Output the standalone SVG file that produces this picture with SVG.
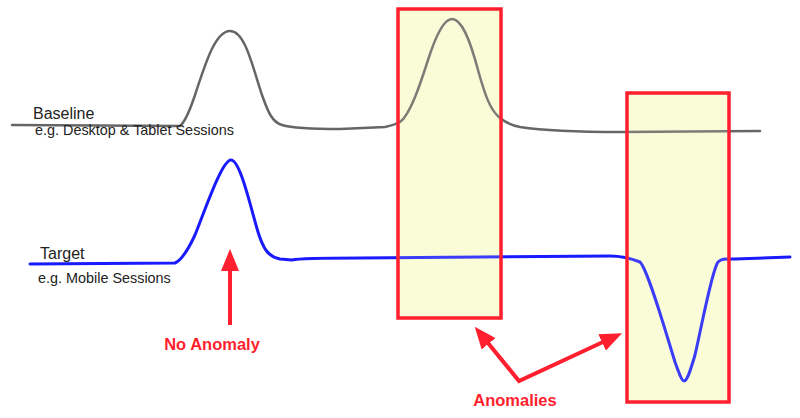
<svg xmlns="http://www.w3.org/2000/svg" width="800" height="418" viewBox="0 0 800 418">
<style>
.lbl{font-family:"Liberation Sans",Arial,sans-serif;fill:#222}
.big{font-size:16px}
.sub{font-size:14.4px}
.red{font-family:"Liberation Sans",Arial,sans-serif;font-weight:bold;font-size:16.5px;fill:#ff1f2e}
.curve{fill:none;stroke-linecap:round;stroke-linejoin:round}
.boxfill{fill:#f9fcd8;stroke:none}
.box{fill:#f9fcd8;fill-opacity:0.15;stroke:#ff1f2e;stroke-width:3.5}
.arr{fill:none;stroke:#ff1f2e;stroke-width:4;stroke-linejoin:miter}
</style>
<defs>
<marker id="ah" markerUnits="userSpaceOnUse" viewBox="0 0 22 18" markerWidth="22" markerHeight="18" refX="1" refY="9" orient="auto-start-reverse">
<path d="M0,0 L22,9 L0,18 z" fill="#ff1f2e"/>
</marker>
</defs>
<g id="box-fills">
<rect class="boxfill" x="398" y="9" width="103" height="309"/>
<rect class="boxfill" x="627" y="93" width="102" height="309"/>
</g>
<g id="baseline">
<path class="curve" stroke="#666" stroke-width="2.5" d="M12,125 L180,126 C185,122 190,110 195,95 C205,65 215,31 230,31 C245,31 252,65 262,95 C268,112 272,122 282,125 C292,128 310,129 340,129 L385,127 C392,126 396,124 400,122 C410,115 420,85 428,60 C436,35 444,19 452,19 C462,19 470,40 478,70 C485,95 490,110 500,118 C505,122 510,125 520,127 C540,130 580,132 620,132 L760,131"/>
<text class="lbl big" x="33" y="119">Baseline</text>
<text class="lbl sub" x="35" y="135">e.g. Desktop &amp; Tablet Sessions</text>
</g>
<g id="target">
<path class="curve" stroke="#1a1aff" stroke-width="3" d="M30,264 L175,263 C182,260 188,250 195,235 C205,210 222,160 231,160 C240,160 250,205 258,232 C263,248 268,257 280,259 L292,260 C300,258 320,258 360,258 L610,256 C620,256 630,258 640,262 C648,270 665,330 675,362 C680,376 682,381 684,381 C687,381 690,372 695,355 C703,320 712,270 718,262 C722,258 726,259 735,259 L790,257"/>
<text class="lbl big" x="40" y="259">Target</text>
<text class="lbl sub" x="38" y="283">e.g. Mobile Sessions</text>
</g>
<g id="box1"><rect class="box" x="398" y="9" width="103" height="309"/></g>
<g id="box2"><rect class="box" x="627" y="93" width="102" height="309"/></g>
<g id="no-anomaly"><text class="red" x="212" y="350" text-anchor="middle">No Anomaly</text></g>
<g id="anomalies"><text class="red" x="515" y="406" text-anchor="middle">Anomalies</text></g>
<g id="connectors">
<path class="arr" d="M230,325 L230,270" marker-end="url(#ah)"/>
<path class="arr" d="M488,343 L519,381 L603,342" marker-start="url(#ah)" marker-end="url(#ah)"/>
</g>
</svg>
